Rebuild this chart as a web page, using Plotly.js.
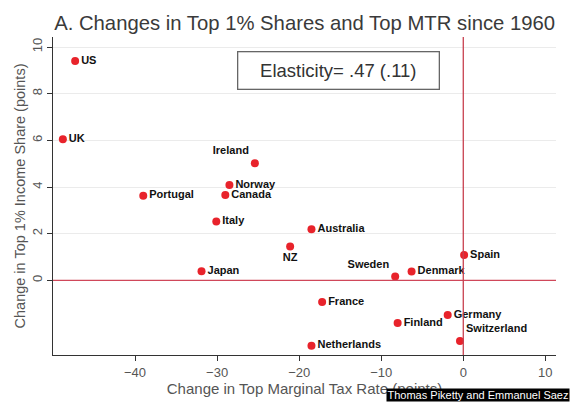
<!DOCTYPE html>
<html>
<head>
<meta charset="utf-8">
<script src="https://cdn.plot.ly/plotly-3.0.1.min.js"></script>
<style>html,body{margin:0;padding:0;background:#fff;}#chart{width:570px;height:402px;}</style>
</head>
<body>
<div id="chart"></div>
<script>
const countries = ["US","UK","Ireland","Norway","Canada","Portugal","Italy","Japan","NZ","Australia","Spain","Sweden","Denmark","France","Germany","Finland","Switzerland","Netherlands"];
const mtrChange = [-47.3,-48.8,-25.4,-28.5,-29.0,-39.0,-30.1,-31.9,-21.1,-18.5,0.1,-8.3,-6.3,-17.2,-1.9,-8.0,-0.4,-18.5];
const shareChange = [9.4,6.05,5.02,4.09,3.66,3.63,2.52,0.39,1.45,2.19,1.09,0.16,0.38,-0.93,-1.49,-1.83,-2.6,-2.8];
const labelPositions = ["middle right","middle right","top left","middle right","middle right","middle right","middle right","middle right","bottom center","middle right","middle right","top left","middle right","middle right","middle right","middle right","top right","middle right"];
const xTicks = [-40,-30,-20,-10,0,10];
const yTicks = [0,2,4,6,8,10];
const titleText = "A. Changes in Top 1% Shares and Top MTR since 1960";
const elasticityText = "Elasticity= .47 (.11)";
const creditText = "Thomas Piketty and Emmanuel Saez";

const trace = {
  x: mtrChange, y: shareChange, text: countries,
  mode: "markers+text", type: "scatter",
  textposition: labelPositions,
  textfont: {family: "Liberation Sans, Arial", size: 11, color: "#111", weight: "bold"},
  marker: {color: "#e8232b", size: 8},
  hoverinfo: "skip", cliponaxis: false
};

const grey = "#555";
const layout = {
  width: 570, height: 402,
  margin: {l: 53, r: 14, t: 37, b: 47},
  paper_bgcolor: "#fff", plot_bgcolor: "#fff",
  showlegend: false,
  title: {text: titleText, font: {family: "Liberation Sans, Arial", size: 20.3, color: "#3a3a3a"}, x: 0.095, xanchor: "left", y: 0.943, yanchor: "middle"},
  xaxis: {
    range: [-50, 11.3], tickvals: xTicks, ticktext: xTicks.map(v => v < 0 ? "\u2212" + Math.abs(v) : String(v)),
    showgrid: false, zeroline: false, showline: true, linecolor: "#333", linewidth: 1.2,
    ticks: "outside", ticklen: 5, tickcolor: "#333", tickwidth: 1,
    tickfont: {family: "Liberation Sans, Arial", size: 13, color: grey},
    title: {text: "Change in Top Marginal Tax Rate (points)", font: {family: "Liberation Sans, Arial", size: 15, color: grey}, standoff: 2}
  },
  yaxis: {
    range: [-3.2, 10.43], tickvals: yTicks, tickangle: -90,
    showgrid: true, gridcolor: "#ebebeb", gridwidth: 1,
    zeroline: false, showline: true, linecolor: "#333", linewidth: 1.2,
    ticks: "outside", ticklen: 5, tickcolor: "#333", tickwidth: 1,
    tickfont: {family: "Liberation Sans, Arial", size: 13, color: grey},
    title: {text: "Change in Top 1% Income Share (points)", font: {family: "Liberation Sans, Arial", size: 14.5, color: grey}, standoff: 0}
  },
  shapes: [
    {type: "line", xref: "x domain", yref: "y", x0: 0, x1: 1, y0: 0, y1: 0, line: {color: "#d0485a", width: 1.3}, layer: "above"},
    {type: "line", xref: "x", yref: "y domain", x0: 0, x1: 0, y0: 0, y1: 1, line: {color: "#c8404f", width: 1.3}, layer: "above"}
  ],
  annotations: [
    {xref: "paper", yref: "paper", x: 0.5676, y: 0.8955, xanchor: "center", yanchor: "middle",
     text: elasticityText, showarrow: false, width: 196, height: 32,
     font: {family: "Liberation Sans, Arial", size: 18.5, color: "#333"},
     bordercolor: "#666", borderwidth: 1.3, borderpad: 2, bgcolor: "#fff"},
    {xref: "paper", yref: "paper", x: 1.028, y: -0.1465, xanchor: "right", yanchor: "bottom",
     text: creditText, showarrow: false, bgcolor: "#000", borderpad: 0, width: 182, height: 12,
     font: {family: "Liberation Sans, Arial", size: 11, color: "#fff"}}
  ]
};

Plotly.newPlot("chart", [trace], layout, {displayModeBar: false, staticPlot: true});
</script>
</body>
</html>
